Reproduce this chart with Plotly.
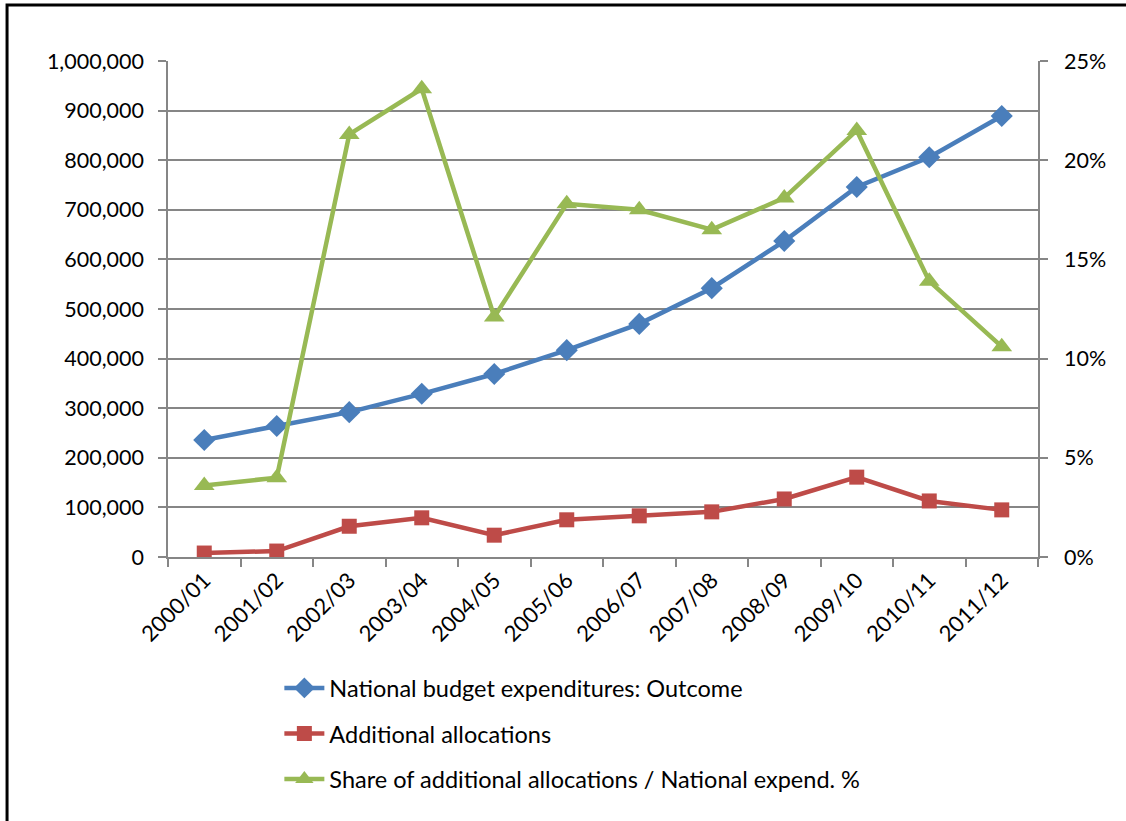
import plotly.graph_objects as go

years = ["2000/01", "2001/02", "2002/03", "2003/04", "2004/05", "2005/06",
         "2006/07", "2007/08", "2008/09", "2009/10", "2010/11", "2011/12"]
national_exp = [236000, 264000, 292000, 329000, 369000, 417000,
                470000, 542000, 637000, 746000, 806000, 889000]
additional_alloc = [8000, 12000, 62000, 79000, 44000, 75000,
                    83000, 91000, 117000, 161000, 113000, 95000]
share_pct = [0.036, 0.040, 0.213, 0.236, 0.121, 0.178,
             0.175, 0.165, 0.181, 0.215, 0.139, 0.106]

BLUE = "#4A7EBB"
RED = "#BE4B48"
GREEN = "#98B954"
GRID = "#868686"
FONT = "Lato, 'Open Sans', sans-serif"

fig = go.Figure()
fig.add_trace(go.Scatter(
    x=years, y=national_exp, name="National budget expenditures: Outcome",
    mode="lines+markers", line=dict(color=BLUE, width=4.5),
    marker=dict(symbol="diamond", size=17, color=BLUE),
    legendgroup="a"))
fig.add_trace(go.Scatter(
    x=years, y=additional_alloc, name="Additional allocations",
    mode="lines+markers", line=dict(color=RED, width=4.5),
    marker=dict(symbol="square", size=15, color=RED),
    legendgroup="b"))
fig.add_trace(go.Scatter(
    x=years, y=share_pct, name="Share of additional allocations / National expend. %",
    mode="lines+markers", line=dict(color=GREEN, width=4.5),
    marker=dict(symbol="triangle-up", size=18, color=GREEN),
    yaxis="y2", legendgroup="c"))

fig.update_layout(
    width=1126, height=821,
    margin=dict(l=168, r=88, t=61, b=264),
    paper_bgcolor="white", plot_bgcolor="white",
    font=dict(family=FONT, size=21, color="black"),
    showlegend=True,
    legend=dict(
        orientation="v", x=0.128, xanchor="left", y=-0.22, yanchor="top",
        font=dict(family=FONT, size=23.5, color="black"),
        tracegroupgap=12, itemwidth=40, bgcolor="rgba(0,0,0,0)"),
    xaxis=dict(
        type="category", tickson="boundaries", ticks="outside", ticklen=8,
        tickcolor=GRID, tickwidth=1.5, showgrid=False,
        showline=True, linecolor=GRID, linewidth=1.5,
        tickangle=-45, tickfont=dict(family=FONT, size=22, color="black"),
        range=[-0.5, 11.5]),
    yaxis=dict(
        range=[0, 1000000], dtick=100000, tickformat=",",
        ticks="outside", ticklen=8, tickcolor=GRID, tickwidth=1.5,
        showgrid=True, gridcolor=GRID, gridwidth=1.5,
        showline=True, linecolor=GRID, linewidth=1.5, zeroline=False,
        ticklabelstandoff=10,
        tickfont=dict(family=FONT, size=21.5, color="black")),
    yaxis2=dict(
        range=[0, 0.25], dtick=0.05, tickformat=".0%", overlaying="y",
        side="right", ticks="outside", ticklen=8, tickcolor=GRID, tickwidth=1.5,
        showgrid=False, showline=True, linecolor=GRID, linewidth=1.5,
        zeroline=False, ticklabelstandoff=12,
        tickfont=dict(family=FONT, size=21.5, color="black")),
    shapes=[dict(type="rect", xref="paper", yref="paper",
                 x0=-0.185, x1=1.12, y0=-0.6, y1=1.113,
                 line=dict(color="black", width=3), fillcolor="rgba(0,0,0,0)",
                 layer="below")],
)

fig.write_html("out.html")
